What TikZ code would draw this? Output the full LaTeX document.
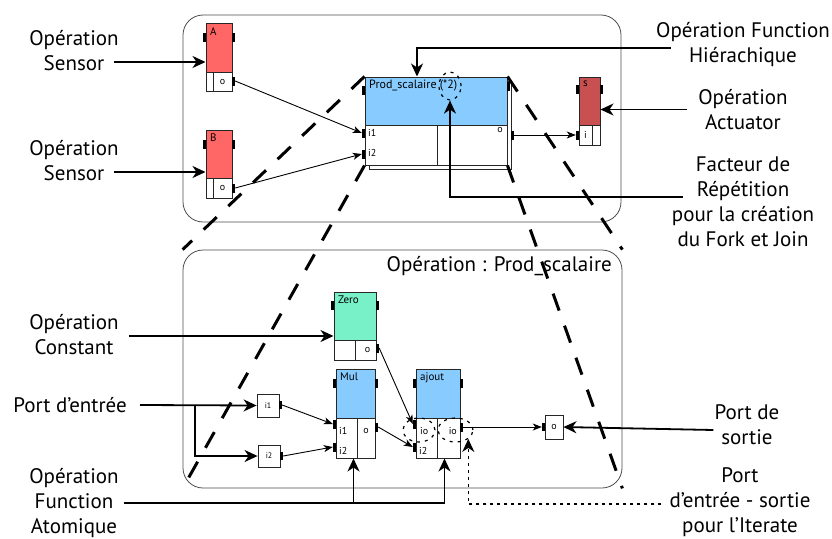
\documentclass[tikz,border=0pt]{standalone}
\usepackage{fontspec}
\setmainfont{PT Sans}
\usetikzlibrary{arrows.meta,shapes.geometric}
\definecolor{sensred}{HTML}{FF6666}
\definecolor{actred}{HTML}{C85050}
\definecolor{funblue}{HTML}{88CCFF}
\definecolor{constgreen}{HTML}{78F0C8}
\begin{document}
\begin{tikzpicture}[x=1pt,y=-1pt,
    box/.style={draw=black!85,line width=1pt,inner sep=0},
    tab/.style={fill=black,inner sep=0,minimum width=3pt,minimum height=9pt},
    ttl/.style={font=\fontsize{11}{13}\selectfont,inner sep=0,anchor=north west},
    ptxt/.style={font=\fontsize{10}{12}\selectfont,inner sep=0},
    lbl/.style={font=\fontsize{21}{25}\selectfont,align=center,inner sep=0},
    cont/.style={draw=black!70,line width=0.8pt,rounded corners=20pt},
    thin/.style={line width=0.9pt,-{Stealth[length=9pt,width=7pt,inset=2.5pt]}},
    big/.style={line width=1.8pt,-{Stealth[length=13pt,width=12pt,inset=4pt]}},
    proj/.style={line width=3pt,dash pattern=on 18pt off 16pt},
    dotted ring/.style={ellipse,draw,line width=1.2pt,dash pattern=on 3pt off 5pt,inner sep=0}]
    \useasboundingbox (0,0) rectangle (832,538);

    % containers
    \node at (402,118.5) [cont,minimum width=438pt,minimum height=207pt] (top) {};
    \node at (402.5,369) [cont,minimum width=439pt,minimum height=238pt] (bot) {};
    \node at (612,266) [lbl,anchor=east] (botTitle) {Opération : Prod\_scalaire};

    % sensors and actuator
    \node at (219,47.5) [box,fill=sensred,minimum width=26pt,minimum height=49pt] (Ah) {};
    \node at (209.5,81.5) [box,minimum width=7pt,minimum height=19pt] (Al) {};
    \node at (222.5,81.5) [box,ptxt,minimum width=19pt,minimum height=19pt] (Ar) {o};
    \node at (210,27) [ttl] (At) {A};
    \node at (204.5,37) [tab] (Atl) {};
    \node at (233.5,37) [tab] (Atr) {};
    \node at (233.5,81) [tab] (Ao) {};

    \node at (219,154) [box,fill=sensred,minimum width=26pt,minimum height=48pt] (Bh) {};
    \node at (209.5,188) [box,minimum width=7pt,minimum height=20pt] (Bl) {};
    \node at (222.5,188) [box,ptxt,minimum width=19pt,minimum height=20pt] (Br) {o};
    \node at (210,134) [ttl] (Bt) {B};
    \node at (204.5,144) [tab] (Btl) {};
    \node at (233.5,144) [tab] (Btr) {};
    \node at (233.5,188) [tab] (Bo) {};

    \node at (589.5,101) [box,fill=actred,minimum width=21pt,minimum height=48pt] (Sh) {};
    \node at (585.5,135) [box,ptxt,minimum width=13pt,minimum height=20pt] (Sl) {i};
    \node at (596,135) [box,minimum width=8pt,minimum height=20pt] (Sr) {};
    \node at (583,81) [ttl] (St) {s};
    \node at (577.5,89) [tab] (Stl) {};
    \node at (601.5,89) [tab] (Str) {};
    \node at (577.5,135) [tab] (Si) {};

    % hierarchical function
    \node at (440,125) [box,fill=white,minimum width=142pt,minimum height=88pt] (Pshadow) {};
    \node at (436,101) [box,fill=funblue,minimum width=142pt,minimum height=48pt] (Ph) {};
    \node at (401,145) [box,fill=white,minimum width=72pt,minimum height=40pt] (Pl) {};
    \node at (472,145) [box,fill=white,minimum width=70pt,minimum height=40pt] (Pr) {};
    \node at (369,80) [ttl,font=\fontsize{12}{14}\selectfont] (Pt) {Prod\_scalaire (*2)};
    \node at (450,86) [dotted ring,minimum width=22pt,minimum height=28pt] (rep) {};
    \node at (368,133) [ptxt,anchor=west] (Pi1t) {i1};
    \node at (368,153) [ptxt,anchor=west] (Pi2t) {i2};
    \node at (503,130) [ptxt,anchor=east] (Pot) {o};
    \node at (363.5,90) [tab] (Ptl) {};
    \node at (508.5,86) [tab] (Ptr) {};
    \node at (363.5,133) [tab] (Pi1) {};
    \node at (363.5,154) [tab] (Pi2) {};
    \node at (512.5,135) [tab] (Po) {};

    % inner graph
    \node at (355,316) [box,fill=constgreen,minimum width=42pt,minimum height=48pt] (Zh) {};
    \node at (344.5,350) [box,minimum width=21pt,minimum height=20pt] (Zl) {};
    \node at (365.5,350) [box,ptxt,minimum width=21pt,minimum height=20pt] (Zr) {\raisebox{-4pt}{\hspace{4pt}o}};
    \node at (338,296) [ttl] (Zt) {Zero};
    \node at (332.5,305) [tab] (Ztl) {};
    \node at (377.5,305) [tab] (Ztr) {};
    \node at (377.5,348) [tab] (Zo) {};

    \node at (355.5,393.5) [box,fill=funblue,minimum width=39pt,minimum height=49pt] (Mh) {};
    \node at (346.5,438) [box,minimum width=21pt,minimum height=40pt] (Ml) {};
    \node at (366,438) [box,minimum width=18pt,minimum height=40pt] (Mr) {};
    \node at (340,373) [ttl] (Mt) {Mul};
    \node at (339,431) [ptxt,anchor=west] (Mi1t) {i1};
    \node at (339,451) [ptxt,anchor=west] (Mi2t) {i2};
    \node at (366,431) [ptxt] (Mot) {o};
    \node at (334.5,383) [tab] (Mtl) {};
    \node at (376.5,383) [tab] (Mtr) {};
    \node at (334.5,424) [tab] (Mi1) {};
    \node at (334.5,447) [tab] (Mi2) {};
    \node at (376.5,427) [tab] (Mo) {};

    \node at (438,393.5) [box,fill=funblue,minimum width=44pt,minimum height=49pt] (Jh) {};
    \node at (426.5,438) [box,minimum width=21pt,minimum height=40pt] (Jl) {};
    \node at (448.5,438) [box,minimum width=23pt,minimum height=40pt] (Jr) {};
    \node at (420,373) [ttl] (Jt) {ajout};
    \node at (420,431) [ptxt,anchor=west] (Jiot) {io};
    \node at (419,451) [ptxt,anchor=west] (Ji2t) {i2};
    \node at (457,431) [ptxt,anchor=east] (Joot) {io};
    \node at (419,430) [dotted ring,minimum width=32pt,minimum height=24pt] (ioL) {};
    \node at (455.5,430) [dotted ring,minimum width=35pt,minimum height=24pt] (ioR) {};
    \node at (414.5,383) [tab] (Jtl) {};
    \node at (461.5,383) [tab] (Jtr) {};
    \node at (414.5,424) [tab] (Jio) {};
    \node at (414.5,447) [tab] (Ji2) {};
    \node at (461.5,427) [tab] (Joo) {};

    \node at (268,405.5) [box,line width=0.8pt,ptxt,font=\fontsize{8}{10}\selectfont,minimum width=22pt,minimum height=23pt] (in1) {i1};
    \node at (280.5,405) [tab,minimum height=8pt] (in1o) {};
    \node at (269,456) [box,line width=0.8pt,ptxt,font=\fontsize{8}{10}\selectfont,minimum width=22pt,minimum height=22pt] (in2) {i2};
    \node at (281.5,456) [tab,minimum height=8pt] (in2o) {};
    \node at (554,427) [box,line width=0.8pt,ptxt,minimum width=18pt,minimum height=24pt] (out) {o};
    \node at (543.5,427) [tab,minimum height=8pt] (outi) {};

    % data connectors
    \draw[thin] (Ao.east) -- (Pi1.west);
    \draw[thin] (Bo.east) -- (Pi2.west);
    \draw[thin] (Po.east) -- (Si.west);
    \draw[thin] (in1o.east) -- (Mi1.west);
    \draw[thin] (in2o.east) -- (Mi2.west);
    \draw[thin] (Zo.east) -- (Jio.west);
    \draw[thin] (Mo.east) -- (Ji2.west);
    \draw[thin] (Joo.east) -- (outi.west);

    % projection of the hierarchical function
    \draw[proj] (Ph.north west) -- (bot.north west);
    \draw[proj] (Pl.south west) -- (bot.south west);
    \draw[proj] (Ph.north east) -- (bot.north east);
    \draw[proj] (Pr.south east) -- (bot.south east);

    % legend, left
    \node at (74,50.5) [lbl] (lSensA) {Opération\\Sensor};
    \node at (74,160.5) [lbl] (lSensB) {Opération\\Sensor};
    \node at (74,334.5) [lbl] (lConst) {Opération\\Constant};
    \node at (127,405) [lbl,anchor=east] (lPin) {Port d’entrée};
    \node at (74,503) [lbl] (lAtom) {Opération\\Function\\Atomique};
    \coordinate (cSA) at ([xshift=-5pt,yshift=-11.5pt]lSensA.east);
    \coordinate (cSB) at ([xshift=-5pt,yshift=-11.5pt]lSensB.east);
    \coordinate (cC) at ([xshift=10pt,yshift=-1.5pt]lConst.east);
    \coordinate (cPin) at ([xshift=13pt]lPin.east);
    \coordinate (cBr) at ([xshift=68pt]lPin.east);
    \coordinate (cAt) at ([xshift=5pt]lAtom.east);
    \draw[big] (cSA) -- (cSA -| Ah.west);
    \draw[big] (cSB) -- (cSB -| Bh.west);
    \draw[big] (cC) -- (cC -| Zh.west);
    \draw[big] (cPin) -- (in1.west);
    \draw[big] (cBr) |- (in2.west);
    \draw[big] (cAt) -| ([xshift=-4pt]Jr.south);
    \draw[big] (cAt -| Ml.south east) ++(-4,0) coordinate (cMu) -- (cMu |- Ml.south);

    % legend, right
    \node at (743,45) [lbl] (lHier) {Opération Function\\Hiérachique};
    \node at (743,109.5) [lbl] (lAct) {Opération\\Actuator};
    \node at (743,202) [lbl] (lRep) {Facteur de\\Répétition\\pour la création\\du Fork et Join};
    \node at (747,424.5) [lbl] (lPout) {Port de\\sortie};
    \node at (740,502) [lbl] (lIter) {Port\\d’entrée - sortie\\pour l’Iterate};
    \coordinate (cH) at ([xshift=15pt,yshift=-3pt]lHier.west);
    \coordinate (cHt) at ([xshift=-19pt]Ph.north);
    \coordinate (cA) at ([xshift=-11pt]lAct.west);
    \coordinate (cR) at ([xshift=11pt,yshift=5pt]lRep.west);
    \coordinate (cPo) at ([xshift=-1pt,yshift=-5.5pt]lPout.west);
    \coordinate (cI) at ([xshift=-8pt,yshift=-2pt]lIter.west);
    \draw[big] (cH) -| (cHt);
    \draw[big] (cA) -- (cA -| Sh.east);
    \draw[big] (cR) -| (rep.south);
    \draw[big] (cPo) -- (out.east);
    \draw[big,line width=1.5pt,dash pattern=on 3pt off 4pt] (cI) -| (ioR.south east);
\end{tikzpicture}
\end{document}
